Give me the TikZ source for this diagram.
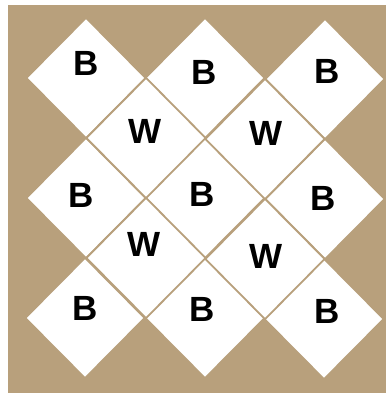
\documentclass[tikz,border=0pt]{standalone}
\usepackage{fontspec}
\setmainfont{Liberation Sans}
\usetikzlibrary{shapes.geometric,positioning}
\definecolor{sand}{RGB}{184,160,124}

\begin{document}
\begin{tikzpicture}[x=1pt,y=1pt,
  tile/.style={shape=diamond,draw=sand,line width=1.8pt,fill=white,inner sep=0pt,minimum width=120pt,minimum height=121pt},
  letter/.style={font=\fontsize{35}{35}\bfseries\selectfont}]
\useasboundingbox (0,0) rectangle (386,393);
\fill[white] (0,0) rectangle (386,393);
\fill[sand] (8,0) rectangle (386,388);
% black-labelled tiles
\node[tile] (b11) at (86,315) {};
\node[tile] (b12) at (205,315) {};
\node[tile] (b13) at (325,314) {};
\node[tile] (b21) at (86,195) {};
\node[tile] (b22) at (205,195) {};
\node[tile] (b23) at (325,194) {};
\node[tile] (b31) at (85,75) {};
\node[tile] (b32) at (205,75) {};
\node[tile] (b33) at (324,74) {};
% white-labelled tiles
\node[tile] (w11) at (146,255) {};
\node[tile] (w12) at (265,254) {};
\node[tile] (w21) at (146,135) {};
\node[tile] (w22) at (265,134) {};
% letters
\node[letter] (lb11) at ([shift={(0,15)}]b11) {B};
\node[letter] (lb12) at ([shift={(-1,6)}]b12) {B};
\node[letter] (lb13) at ([shift={(2,8)}]b13) {B};
\node[letter] (lb21) at ([shift={(-5,3)}]b21) {B};
\node[letter] (lb22) at ([shift={(-3,4)}]b22) {B};
\node[letter] (lb23) at ([shift={(-2,1)}]b23) {B};
\node[letter] (lb31) at ([shift={(0,10)}]b31) {B};
\node[letter] (lb32) at ([shift={(-3,9)}]b32) {B};
\node[letter] (lb33) at ([shift={(3,8)}]b33) {B};
\node[letter] (lw11) at ([shift={(-1,7)}]w11) {W};
\node[letter] (lw12) at ([shift={(1,6)}]w12) {W};
\node[letter] (lw21) at ([shift={(-2,14)}]w21) {W};
\node[letter] (lw22) at ([shift={(1,3)}]w22) {W};
\end{tikzpicture}
\end{document}
